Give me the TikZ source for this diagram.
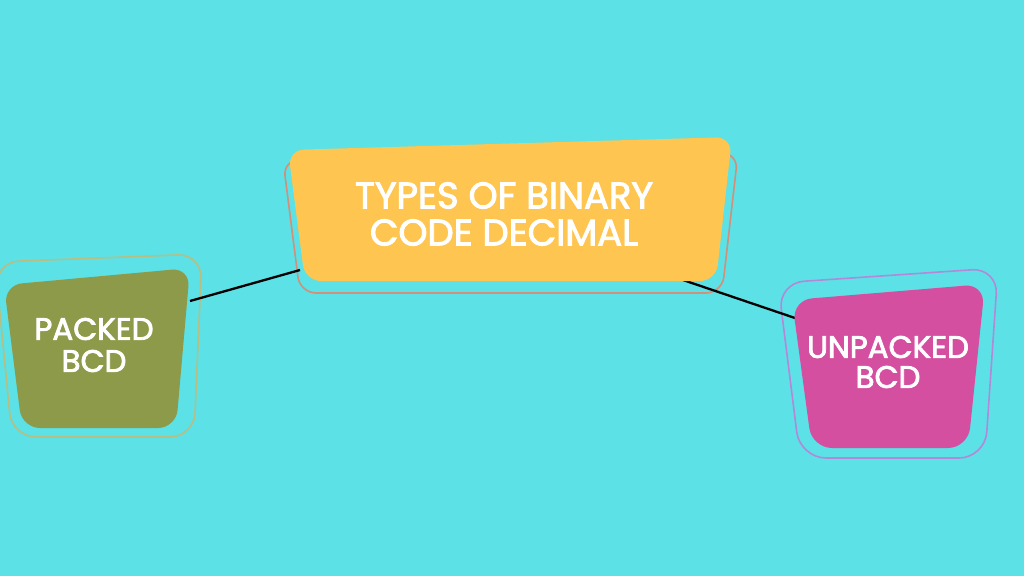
\documentclass[tikz,border=0pt]{standalone}
\usepackage{fontspec}
\setmainfont{Poppins}
\newfontfamily\lblfont{Poppins}[FakeBold=2.5]
\definecolor{bgc}{HTML}{5CE1E6}
\definecolor{yel}{HTML}{FFC551}
\definecolor{yelline}{HTML}{D0907A}
\definecolor{olive}{HTML}{8C9A4A}
\definecolor{oliveline}{HTML}{B8BE82}
\definecolor{mag}{HTML}{D54FA0}
\definecolor{magline}{HTML}{B488D8}
\begin{document}
\begin{tikzpicture}[x=1pt,y=-1pt,
  lbl/.style={text=white,align=center},
  link/.style={draw=black,line width=2.3pt},
  ring/.style={line width=1.6pt}]
\fill[bgc] (0,0) rectangle (1024,576);
\useasboundingbox (0,0) rectangle (1024,576);
% outlines
\draw[ring,yelline,rounded corners=16pt] (283,160) -- (738,153) -- (722,293) -- (300,293) -- cycle;
\draw[ring,oliveline,rounded corners=24pt] (-5,262) -- (202,254) -- (194,437) -- (12,437) -- cycle;
\draw[ring,magline,rounded corners=26pt] (778,283) -- (998,268) -- (985,458) -- (800,458) -- cycle;
% connector end points
\coordinate (pa) at (190,301);
\coordinate (ta) at (300,270);
\coordinate (tb) at (683,280);
\coordinate (ua) at (795,318);
\draw[link] (pa) -- (ta);
\draw[link] (tb) -- (ua);
% fills
\fill[yel,rounded corners=16pt] (288,150) -- (732,137) -- (716,281) -- (305,281) -- cycle;
\fill[olive,rounded corners=18pt] (4,285) -- (190,268) -- (176,428) -- (22,428) -- cycle;
\fill[mag,rounded corners=20pt] (792,300) -- (985,284) -- (968,448) -- (812,448) -- cycle;
% labels
\node[lbl,font=\lblfont\fontsize{37}{37}\selectfont] (types) at (504,214) {TYPES OF BINARY\\CODE DECIMAL};
\node[lbl,font=\lblfont\fontsize{31}{32}\selectfont] (packed) at (94,345) {PACKED\\BCD};
\node[lbl,font=\lblfont\fontsize{31}{30}\selectfont] (unpacked) at (888,362) {UNPACKED\\BCD};
\end{tikzpicture}
\end{document}
